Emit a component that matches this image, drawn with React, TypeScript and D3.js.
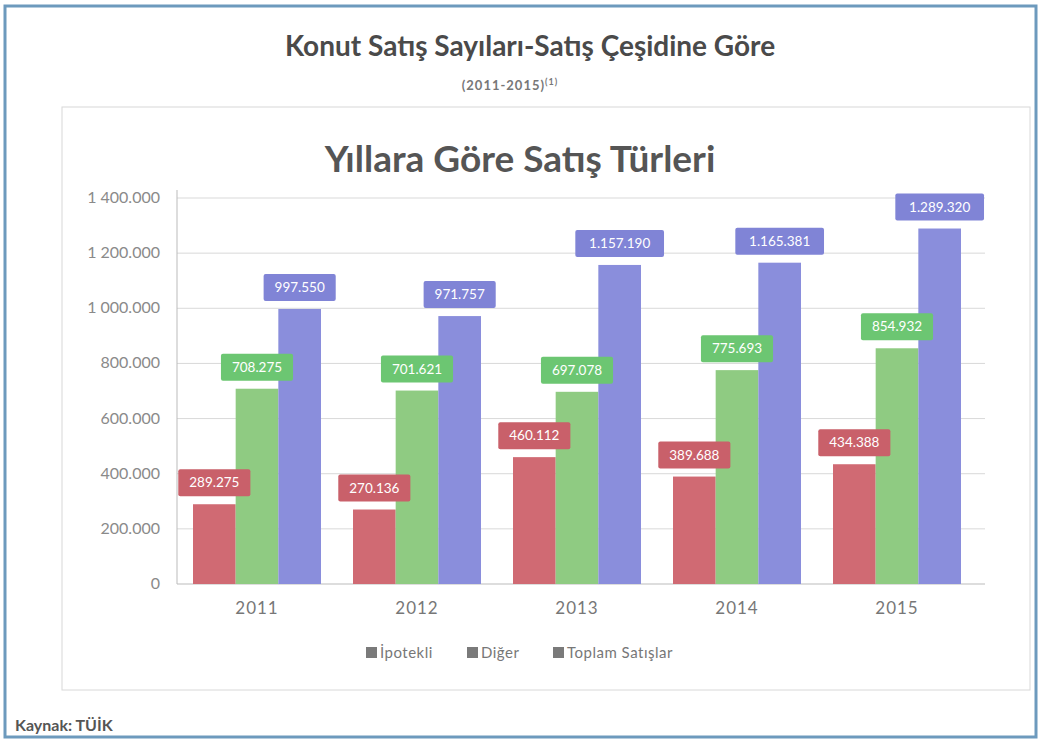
import React from "react";
import * as d3 from "d3";

const years = ["2011", "2012", "2013", "2014", "2015"];
const ipotekli = [289275, 270136, 460112, 389688, 434388];
const diger = [708275, 701621, 697078, 775693, 854932];
const toplam = [997550, 971757, 1157190, 1165381, 1289320];
const seriesNames = ["İpotekli", "Diğer", "Toplam Satışlar"];
const yTicks = [0, 200000, 400000, 600000, 800000, 1000000, 1200000, 1400000];
const yTickLabels = ["0", "200.000", "400.000", "600.000", "800.000", "1 000.000", "1 200.000", "1 400.000"];

const barColors = ["#d06a73", "#8fcb82", "#8a8edc"];
const labelColors = ["#c9606a", "#6cc672", "#8084d6"];

const W = 1040;
const H = 744;
const plot = { left: 177, right: 977, top: 198, bottom: 584 };
const font = "Lato, 'Open Sans', sans-serif";

function fmt(v: number) {
  return d3.format(",")(v).replace(/,/g, ".");
}

export default function App() {
  const x0 = d3.scaleBand<string>().domain(years).range([plot.left, plot.right]).paddingInner(0.2).paddingOuter(0.1);
  const x1 = d3.scaleBand<number>().domain([0, 1, 2]).range([0, x0.bandwidth()]).padding(0);
  const y = d3.scaleLinear().domain([0, 1400000]).range([plot.bottom, plot.top]);
  const series = [ipotekli, diger, toplam];
  const legendStarts = [366, 467, 553];

  return (
    <svg width={W} height={H} style={{ position: "absolute", left: 0, top: 0, background: "#fff" }} fontFamily={font}>
      <rect x={5} y={6} width={1031} height={731} fill="#fff" stroke="#6d9abd" strokeWidth={3} />
      <text x={530} y={56} textAnchor="middle" fontSize={28} fontWeight="bold" fill="#4a4a4a">
        Konut Satış Sayıları-Satış Çeşidine Göre
      </text>
      <text x={510} y={90} textAnchor="middle" fontSize={13} fontWeight="bold" letterSpacing={1} fill="#777">
        (2011-2015)<tspan dy={-5} fontSize={9}>(1)</tspan>
      </text>
      <rect x={62} y={107} width={968} height={583} fill="#fff" stroke="#d8d8d8" strokeWidth={1} />
      <text x={520} y={172} textAnchor="middle" fontSize={37} fontWeight="bold" fill="#555">
        Yıllara Göre Satış Türleri
      </text>
      {yTicks.map((t, i) => (
        <g key={t}>
          {t > 0 && (
            <line x1={plot.left} x2={plot.right + 8} y1={y(t)} y2={y(t)} stroke="#d9d9d9" strokeWidth={1} />
          )}
          <text x={160} y={y(t) + 5} textAnchor="end" fontSize={16} fill="#8a8a8a">
            {yTickLabels[i]}
          </text>
        </g>
      ))}
      <line x1={plot.left} x2={plot.left} y1={y(1400000) - 8} y2={plot.bottom} stroke="#bbb" />
      <line x1={plot.left} x2={plot.right + 8} y1={plot.bottom} y2={plot.bottom} stroke="#bbb" />
      {years.map((yr, gi) => (
        <g key={yr} transform={`translate(${x0(yr)},0)`}>
          {series.map((s, si) => (
            <rect
              key={si}
              x={x1(si)}
              y={y(s[gi])}
              width={x1.bandwidth()}
              height={plot.bottom - y(s[gi])}
              fill={barColors[si]}
            />
          ))}
        </g>
      ))}
      {years.map((yr, gi) => (
        <g key={"l" + yr} transform={`translate(${x0(yr)},0)`}>
          {series.map((s, si) => {
            const label = fmt(s[gi]);
            const w = label.length * 8.3 + 14;
            const cx = (x1(si) as number) + x1.bandwidth() / 2;
            const cy = y(s[gi]) - 22;
            return (
              <g key={si}>
                <rect x={cx - w / 2} y={cy - 13} width={w} height={27} rx={2} fill={labelColors[si]} />
                <text x={cx} y={cy + 5} textAnchor="middle" fontSize={13.5} fill="#fff">
                  {label}
                </text>
              </g>
            );
          })}
        </g>
      ))}
      {years.map((yr) => (
        <text key={"x" + yr} x={(x0(yr) as number) + x0.bandwidth() / 2} y={614} textAnchor="middle" fontSize={17} letterSpacing={1} fill="#777">
          {yr}
        </text>
      ))}
      {seriesNames.map((n, i) => (
        <g key={n}>
          <rect x={legendStarts[i]} y={647} width={11} height={11} fill="#7a7a7a" />
          <text x={legendStarts[i] + 14} y={658} fontSize={15} letterSpacing={0.5} fill="#777">
            {n}
          </text>
        </g>
      ))}
      <text x={15} y={731} fontSize={16} fontWeight="bold" fill="#555">
        Kaynak: TÜİK
      </text>
    </svg>
  );
}
